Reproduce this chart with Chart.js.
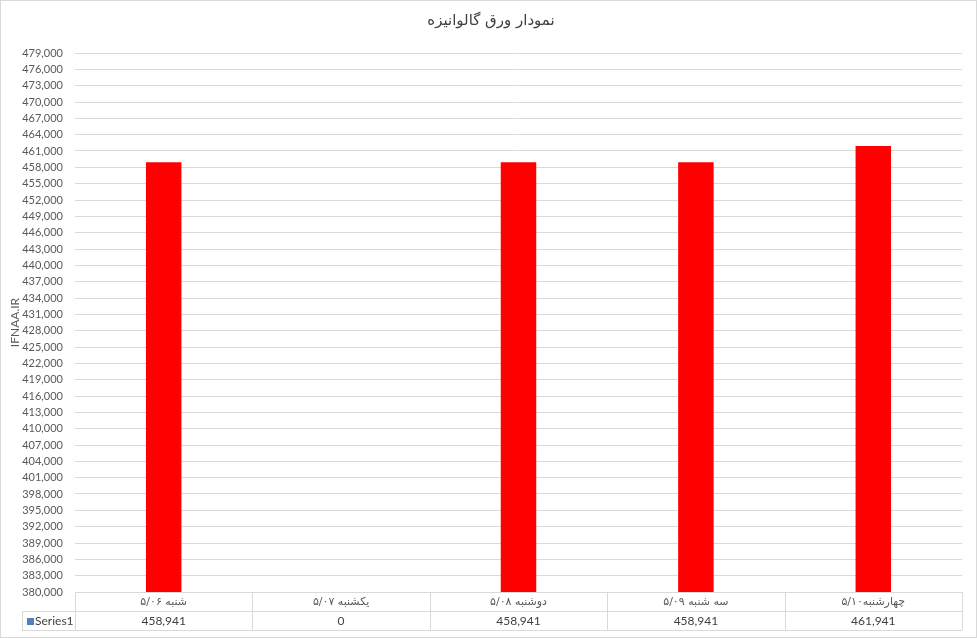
<!DOCTYPE html>
<html>
<head>
<meta charset="utf-8">
<script src="https://cdn.jsdelivr.net/npm/chart.js@4"></script>
<style>
  html, body { margin: 0; padding: 0; background: #fff; }
</style>
</head>
<body>
<canvas id="myChart" width="977" height="638"></canvas>
<script>
const categories = ['شنبه ۵/۰۶', 'یکشنبه ۵/۰۷', 'دوشنبه ۵/۰۸', 'سه شنبه ۵/۰۹', 'چهارشنبه۵/۱۰'];
const series1 = [458941, 0, 458941, 458941, 461941];
const seriesName = 'Series1';
const chartTitle = 'نمودار ورق گالوانیزه';
const axisTitle = 'IFNAA.IR';
const yMin = 380000;
const yMax = 479000;
const yStep = 3000;

const lineColor = '#d9d9d9';
const textColor = '#595959';
const latinFont = "Lato, 'DejaVu Sans', sans-serif";
const persianFont = "'DejaVu Sans', sans-serif";

// data table under the plot, drawn like the excel one
const dataTable = {
    id: 'dataTable',
    afterDraw(chart) {
        const c = chart.ctx;
        const xs = chart.scales.x;
        const area = chart.chartArea;
        const n = categories.length;
        const w = (area.right - area.left) / n;
        const rowTop = area.bottom;
        const rowMid = rowTop + 19;
        const rowBot = rowTop + 38;
        const legendLeft = 22;

        c.save();
        c.strokeStyle = lineColor;
        c.lineWidth = 1;
        c.beginPath();
        c.moveTo(area.left, rowTop + 0.5); c.lineTo(area.right, rowTop + 0.5);
        c.moveTo(legendLeft, rowMid + 0.5); c.lineTo(area.right, rowMid + 0.5);
        c.moveTo(legendLeft, rowBot + 0.5); c.lineTo(area.right, rowBot + 0.5);
        c.moveTo(legendLeft + 0.5, rowMid); c.lineTo(legendLeft + 0.5, rowBot);
        for (let i = 0; i <= n; i++) {
            const px = Math.round(area.left + i * w) + 0.5;
            c.moveTo(px, rowTop); c.lineTo(px, rowBot);
        }
        c.stroke();

        // legend key
        c.fillStyle = '#4f81bd';
        c.fillRect(legendLeft + 5, rowMid + 7, 7, 7);
        c.fillStyle = '#404040';
        c.font = '12px ' + latinFont;
        c.textAlign = 'left';
        c.textBaseline = 'middle';
        c.fillText(seriesName, legendLeft + 13, (rowMid + rowBot) / 2 + 1);

        c.textAlign = 'center';
        series1.forEach((v, i) => {
            c.fillText(v.toLocaleString('en-US'), xs.getPixelForValue(i), (rowMid + rowBot) / 2 + 1);
        });

        // outer border
        c.strokeStyle = lineColor;
        c.strokeRect(0.5, 0.5, chart.width - 1, chart.height - 1);
        c.restore();
    }
};

const ctx = document.getElementById('myChart');
new Chart(ctx, {
    type: 'bar',
    data: {
        labels: categories,
        datasets: [{
            label: seriesName,
            data: series1,
            backgroundColor: '#ff0000',
            borderWidth: 0,
            categoryPercentage: 1,
            barPercentage: 0.2
        }]
    },
    options: {
        responsive: false,
        animation: false,
        devicePixelRatio: 1,
        layout: {
            padding: { left: 20, right: 15, top: 0, bottom: 0 }
        },
        plugins: {
            legend: { display: false },
            tooltip: { enabled: false },
            title: {
                display: true,
                text: chartTitle,
                color: '#404040',
                font: { family: persianFont, size: 15, weight: 'normal' },
                padding: { top: 12, bottom: 23 }
            }
        },
        scales: {
            x: {
                grid: { display: false, drawTicks: false },
                border: { display: false },
                ticks: {
                    color: textColor,
                    font: { family: persianFont, size: 11 },
                    padding: 4,
                    maxRotation: 0,
                    autoSkip: false
                },
                afterFit(scale) { scale.height = 46; }
            },
            y: {
                min: yMin,
                max: yMax,
                grid: { color: lineColor, drawTicks: false },
                border: { display: false },
                ticks: {
                    stepSize: yStep,
                    color: textColor,
                    padding: 12,
                    font: { family: latinFont, size: 11 },
                    callback: (v) => v.toLocaleString('en-US')
                },
                title: {
                    display: true,
                    text: axisTitle,
                    color: textColor,
                    font: { family: latinFont, size: 12 },
                    padding: { top: -12, bottom: 0 }
                },
                afterFit(scale) { scale.width = 55; }
            }
        }
    },
    plugins: [dataTable]
});
</script>
</body>
</html>
